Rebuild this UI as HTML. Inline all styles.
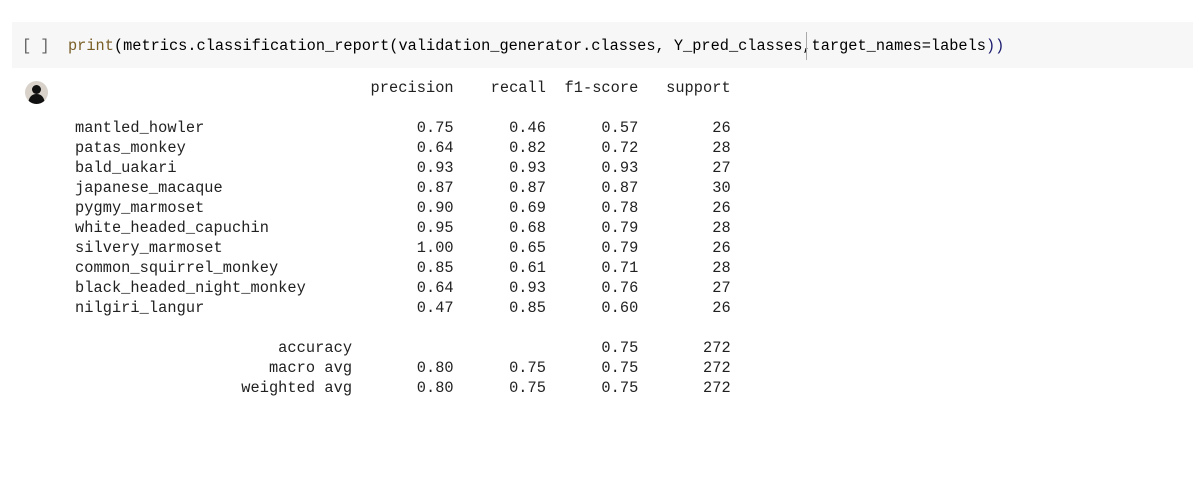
<!DOCTYPE html>
<html><head><meta charset="utf-8"><style>
html,body{margin:0;padding:0;background:#fff;width:1193px;height:486px;overflow:hidden;position:relative;font-family:"Liberation Mono",monospace;}
.cell{position:absolute;left:12px;top:22px;width:1181px;height:46px;background:#f7f7f7;}
.br{position:absolute;left:22px;top:36px;font-size:15.3px;color:#616161;line-height:20px;white-space:pre;}
.code{position:absolute;left:68px;top:36px;font-size:15.3px;line-height:20px;white-space:pre;color:#000;}
.fn{color:#795e26}.p{color:#1a1a6e}
.cursor{position:absolute;left:806px;top:32px;width:1px;height:28px;background:#aaa;}
.avatar{position:absolute;left:25px;top:81px;width:23px;height:23px;border-radius:50%;background:#d8d2ca;overflow:hidden;}
.out{position:absolute;left:75px;top:78px;margin:0;font-family:"Liberation Mono",monospace;font-size:15.3px;letter-spacing:0.056px;line-height:20px;color:#212121;white-space:pre;}
</style></head><body>
<div class="cell"></div>
<div class="br">[ ]</div>
<div class="code"><span class="fn">print</span>(metrics.classification_report(validation_generator.classes, Y_pred_classes,target_names=labels<span class="p">))</span></div>
<div class="cursor"></div>
<div class="avatar"><svg width="23" height="23"><circle cx="11.5" cy="8.5" r="4.5" fill="#111"/><path d="M3 23 Q4 13 11.5 13 Q19 13 20 23 Z" fill="#111"/></svg></div>
<pre class="out">                                precision    recall  f1-score   support

mantled_howler                       0.75      0.46      0.57        26
patas_monkey                         0.64      0.82      0.72        28
bald_uakari                          0.93      0.93      0.93        27
japanese_macaque                     0.87      0.87      0.87        30
pygmy_marmoset                       0.90      0.69      0.78        26
white_headed_capuchin                0.95      0.68      0.79        28
silvery_marmoset                     1.00      0.65      0.79        26
common_squirrel_monkey               0.85      0.61      0.71        28
black_headed_night_monkey            0.64      0.93      0.76        27
nilgiri_langur                       0.47      0.85      0.60        26

                      accuracy                           0.75       272
                     macro avg       0.80      0.75      0.75       272
                  weighted avg       0.80      0.75      0.75       272
</pre>
</body></html>
